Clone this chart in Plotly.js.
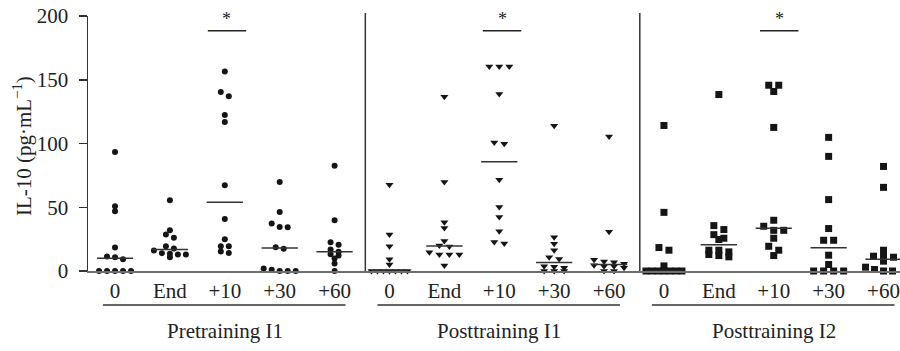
<!DOCTYPE html>
<html>
<head>
<meta charset="utf-8">
<script src="https://cdn.plot.ly/plotly-3.0.1.min.js"></script>
<style>html,body{margin:0;padding:0;background:#fff;}#chart{width:900px;height:351px;}</style>
</head>
<body>
<div id="chart"></div>
<script>
// ---- data ----
const categories = ['0', 'End', '+10', '+30', '+60'];
const groups = ['Pretraining I1', 'Posttraining I1', 'Posttraining I2'];
const yTicks = [0, 50, 100, 150, 200];
const yTitle = 'IL-10 (pg·mL<sup>−1</sup>)';
const sigLabel = '*';
const sigLevel = 188.5;

const pretrainingI1 = [
  [93.3, 50.7, 46.8, 18.4, 11.4, 10.8, 9.2, 0, 0, 0, 0, 0],
  [55.4, 31.9, 28.6, 26.0, 19.4, 17.6, 16.0, 14.0, 13.5, 12.9, 12.9, 10.8],
  [156.4, 140.3, 137.1, 122.3, 116.8, 67.2, 40.8, 24.9, 19.4, 19.4, 15.3, 14.2],
  [69.8, 46.3, 37.2, 34.6, 34.3, 18.6, 17.4, 2.0, 0.9, 0, 0, 0],
  [82.6, 39.8, 22.6, 20.5, 16.8, 15.0, 13.2, 12.1, 9.8, 5.9, 0]
];
const posttrainingI1 = [
  [67.7, 28.6, 19.4, 9.3, 5.1, 0, 0, 0, 0, 0, 0, 0],
  [136.6, 69.8, 38.2, 33.8, 23.5, 20.0, 19.2, 14.7, 12.9, 12.9, 12.9, 4.3],
  [160.3, 160.3, 160.3, 138.9, 100.8, 99.8, 71.6, 50.2, 42.4, 31.2, 22.8, 21.5],
  [113.9, 26.5, 21.3, 16.3, 10.8, 9.5, 3.8, 3.3, 2.5, 0, 0, 0],
  [105.5, 30.7, 8.8, 7.4, 6.9, 5.6, 4.5, 3.8, 3.8, 2.5, 0, 0]
];
const posttrainingI2 = [
  [114.1, 46.0, 18.4, 16.3, 4.0, 0, 0, 0, 0, 0, 0, 0],
  [138.4, 35.6, 32.5, 28.5, 25.7, 24.7, 16.3, 16.3, 15.0, 12.9, 12.1, 11.1],
  [145.7, 145.7, 140.8, 112.6, 39.8, 35.1, 31.9, 31.9, 25.7, 19.4, 16.3, 12.1],
  [104.8, 89.9, 56.0, 33.3, 24.1, 24.1, 12.4, 5.1, 0, 0, 0, 0],
  [82.0, 65.6, 16.3, 11.6, 11.6, 10.8, 7.7, 3.0, 1.2, 0, 0, 0]
];
const significantCategory = '+10';

// ---- styling / layout ----
const FONT = 'Liberation Serif, Times New Roman, serif';
const FS = 21;
const TXT = '#222';
const groupData = [pretrainingI1, posttrainingI1, posttrainingI2];
const symbols = ['circle', 'triangle-down', 'square'];
const sizes = [6, 7, 7];
const stepPx = [8, 10, 10];
const xPxPerUnit = 54.9, yPxPerUnit = 255 / 200;
const rowTolPx = 4.2, maxRowPx = 36;

function median(arr) {
  const s = arr.slice().sort((a, b) => a - b);
  const n = s.length;
  return n % 2 ? s[(n - 1) / 2] : (s[n / 2 - 1] + s[n / 2]) / 2;
}

// simple row-based beeswarm layout
function swarm(values, center, step) {
  const sorted = values.slice().sort((a, b) => b - a);
  const rows = [];
  sorted.forEach(v => {
    const r = rows[rows.length - 1];
    if (r && (r[0] - v) * yPxPerUnit <= rowTolPx) r.push(v); else rows.push([v]);
  });
  const xs = [], ys = [];
  rows.forEach(r => {
    const n = r.length;
    const s = n > 1 ? Math.min(step, maxRowPx / (n - 1)) : 0;
    r.forEach((v, k) => {
      xs.push(center + ((k - (n - 1) / 2) * s) / xPxPerUnit);
      ys.push(v);
    });
  });
  return {xs, ys};
}

const traces = [];
const medX = [], medY = [];
const tickvals = [], ticktext = [];
groupData.forEach((g, gi) => {
  const X = [], Y = [];
  g.forEach((vals, ci) => {
    const c = gi * categories.length + ci;
    tickvals.push(c); ticktext.push(categories[ci]);
    const p = swarm(vals, c, stepPx[gi]);
    X.push(...p.xs); Y.push(...p.ys);
    const m = median(vals);
    medX.push(c - 0.33, c + 0.33, null); medY.push(m, m, null);
  });
  traces.push({
    type: 'scatter', mode: 'markers', x: X, y: Y, name: groups[gi],
    cliponaxis: false, showlegend: false,
    marker: {symbol: symbols[gi], size: sizes[gi], color: '#151515', line: {width: 0}}
  });
});
traces.push({
  type: 'scatter', mode: 'lines', x: medX, y: medY, showlegend: false,
  cliponaxis: false, line: {color: '#333', width: 1.5}
});

const shapes = [], annotations = [];
const n = categories.length;
const sigIdx = categories.indexOf(significantCategory);
const sigShift = [0.04, 0.05, 0.1];
groups.forEach((g, gi) => {
  const i0 = gi * n;
  if (gi > 0) shapes.push({type: 'line', xref: 'x', yref: 'paper', x0: i0 - 0.44, x1: i0 - 0.44, y0: 0, y1: 1.012, line: {color: '#333', width: 1.5}});
  shapes.push({type: 'line', xref: 'x', yref: 'paper', x0: i0 - 0.22, x1: i0 + n - 0.8, y0: -0.133, y1: -0.133, line: {color: '#333', width: 1.5}});
  annotations.push({xref: 'x', yref: 'paper', x: i0 + (n - 1) / 2, y: -0.235, text: g, showarrow: false, yanchor: 'middle', font: {family: FONT, size: FS, color: TXT}});
  const sc = i0 + sigIdx + sigShift[gi];
  shapes.push({type: 'line', xref: 'x', yref: 'y', x0: sc - 0.35, x1: sc + 0.35, y0: sigLevel, y1: sigLevel, line: {color: '#222', width: 1.5}});
  annotations.push({xref: 'x', yref: 'y', x: sc, y: 197.5, text: sigLabel, showarrow: false, yanchor: 'middle', font: {family: FONT, size: 18, color: TXT}});
});
annotations.push({xref: 'paper', yref: 'paper', x: -0.0813, y: 0.49, xanchor: 'center', yanchor: 'middle', textangle: -90, text: yTitle, showarrow: false, font: {family: FONT, size: FS, color: TXT}});

const layout = {
  width: 900, height: 351,
  margin: {l: 88, r: 0, t: 16, b: 80},
  paper_bgcolor: '#fff', plot_bgcolor: '#fff',
  font: {family: FONT, color: TXT},
  xaxis: {
    range: [-0.492, 14.30], tickvals, ticktext, showgrid: false, zeroline: false,
    showline: true, linecolor: '#6e6e6e', linewidth: 2,
    ticks: '', 
    tickfont: {family: FONT, size: FS, color: TXT}
  },
  yaxis: {
    range: [0, 200], tickvals: yTicks, showgrid: false, zeroline: false,
    showline: true, linecolor: '#333', linewidth: 1.5,
    ticks: 'outside', ticklen: 8, tickcolor: '#333', tickwidth: 1.5,
    ticklabelstandoff: 6,
    tickfont: {family: FONT, size: FS, color: TXT}
  },
  shapes, annotations
};

Plotly.newPlot('chart', traces, layout, {displayModeBar: false, staticPlot: true});
</script>
</body>
</html>
